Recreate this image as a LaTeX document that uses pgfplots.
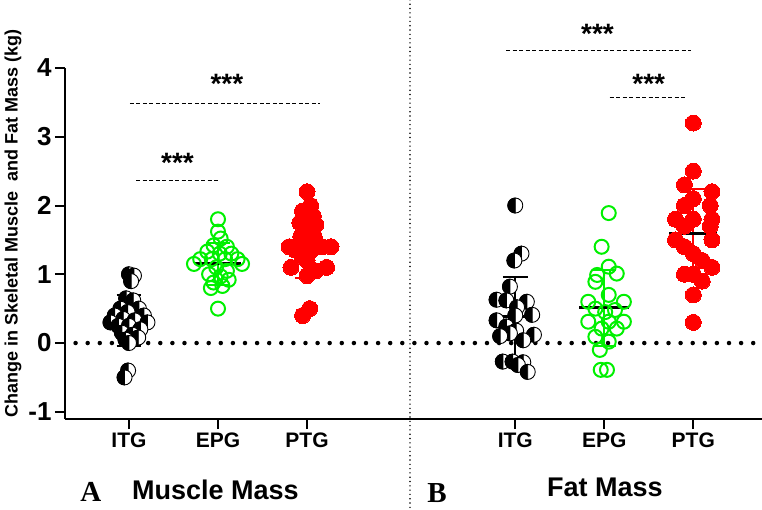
\documentclass[border=0pt]{standalone}
\usepackage{fontspec}
\setmainfont{Liberation Sans}
\newfontfamily\tnr{Liberation Serif}
\usepackage{pgfplots}
\usepackage{pgfplotstable}
\pgfplotsset{compat=1.18}
\definecolor{grn}{RGB}{0,240,0}
\definecolor{rd}{RGB}{255,0,0}

\pgfdeclareplotmark{halfc}{%
  \pgfpathcircle{\pgfpointorigin}{\pgfplotmarksize}%
  \pgfsetfillcolor{white}%
  \pgfusepathqfillstroke
  \pgfpathmoveto{\pgfqpoint{0pt}{\pgfplotmarksize}}%
  \pgfpatharc{90}{270}{\pgfplotmarksize}%
  \pgfpathclose
  \pgfsetfillcolor{black}%
  \pgfusepathqfillstroke
}

% Muscle mass (panel A)
\pgfplotstableread{
x y
1.00 1.00
1.056 0.98
1.024 0.90
0.968 0.65
1.048 0.62
0.904 0.50
1.112 0.50
0.984 0.45
0.84 0.40
1.168 0.40
0.936 0.35
1.064 0.33
0.792 0.30
1.208 0.30
0.88 0.25
1.00 0.25
1.128 0.20
0.92 0.15
1.04 0.12
0.96 0.05
1.104 0.08
1.00 0.00
0.99 -0.40
0.95 -0.50
}\itgA
\pgfplotstableread{
x y
2.00 1.80
2.00 1.62
2.03 1.52
1.95 1.42
2.10 1.40
1.88 1.33
2.02 1.30
2.15 1.30
1.80 1.22
1.93 1.22
2.08 1.22
2.22 1.22
1.73 1.15
2.27 1.15
1.98 1.10
2.10 1.05
1.90 1.00
2.03 0.97
2.12 0.92
1.95 0.88
2.05 0.83
1.92 0.80
2.00 0.50
}\epgA
\pgfplotstableread{
x y
3.00 2.20
3.04 2.00
2.95 1.92
3.07 1.85
2.92 1.75
3.10 1.72
3.00 1.65
2.93 1.55
3.08 1.55
2.98 1.45
2.80 1.40
3.17 1.40
2.87 1.35
3.27 1.40
3.05 1.35
2.95 1.25
3.00 1.20
2.82 1.10
3.22 1.10
3.10 1.05
3.00 0.98
3.03 0.50
2.95 0.40
}\ptgA
% Fat mass (panel B)
\pgfplotstableread{
x y
5.34 2.00
5.41 1.30
5.33 1.20
5.28 0.82
5.13 0.63
5.24 0.62
5.47 0.60
5.36 0.52
5.53 0.41
5.34 0.40
5.13 0.33
5.24 0.24
5.35 0.18
5.55 0.12
5.28 0.14
5.17 0.10
5.43 0.04
5.20 -0.27
5.31 -0.27
5.43 -0.28
5.37 -0.32
5.48 -0.42
}\itgB
\pgfplotstableread{
x y
6.39 1.89
6.31 1.40
6.39 1.11
6.48 1.01
6.26 0.99
6.24 0.89
6.39 0.70
6.16 0.60
6.56 0.60
6.24 0.50
6.46 0.48
6.35 0.45
6.16 0.31
6.56 0.31
6.39 0.31
6.31 0.21
6.48 0.21
6.24 0.09
6.39 0.02
6.29 -0.10
6.30 -0.39
6.37 -0.39
}\epgB
\pgfplotstableread{
x y
7.34 3.20
7.34 2.50
7.24 2.30
7.55 2.20
7.34 2.10
7.24 2.00
7.53 2.00
7.14 1.80
7.34 1.80
7.55 1.80
7.24 1.70
7.53 1.70
7.14 1.50
7.55 1.50
7.24 1.40
7.34 1.30
7.44 1.20
7.55 1.10
7.24 1.00
7.34 1.00
7.44 0.90
7.34 0.70
7.34 0.30
}\ptgB

\begin{document}
\begin{tikzpicture}
\path[use as bounding box] (-65pt,-90pt) rectangle (697pt,419pt);
\begin{axis}[
  scale only axis, width=697pt, height=351pt,
  xmin=0.281, xmax=8.112, ymin=-1.105, ymax=4,
  axis x line=bottom, axis y line=left,
  axis line style={-, line width=2.4pt},
  xtick={1,2,3,5.34,6.34,7.34},
  xticklabels={ITG,EPG,PTG,ITG,EPG,PTG},
  ytick={-1,0,1,2,3,4},
  yticklabels={-1,0,1,2,3,4},
  tick align=outside, major tick length=10pt,
  tick style={line width=2pt, black},
  xticklabel style={font=\bfseries\fontsize{21}{21}\selectfont},
  yticklabel style={font=\bfseries\fontsize{26}{26}\selectfont},
  ylabel={Change in Skeletal Muscle\ \ and Fat Mass (kg)},
  ylabel style={font=\bfseries\fontsize{18}{18}\selectfont, at={(axis description cs:-0.0746,0.558)}, anchor=center},
  clip=false,
]
% reference lines
\addplot[black, line width=4.5pt, line cap=round, dash pattern=on 0pt off 12.1pt] coordinates {(0.40,0) (8.112,0)};
\addplot[black, line width=1.6pt, line cap=round, dash pattern=on 0pt off 4.3pt] coordinates {(4.157,4.99) (4.157,-2.41)};

% points
\addplot[only marks, mark=halfc, mark size=7.5pt, mark options={draw=black, line width=0.9pt}] table[x=x,y=y] {\itgA};
\addplot[only marks, mark=o, mark size=7pt, mark options={draw=grn, line width=2pt}] table[x=x,y=y] {\epgA};
\addplot[only marks, mark=*, mark size=8pt, mark options={draw=rd, fill=rd, line width=0pt}] table[x=x,y=y] {\ptgA};
\addplot[only marks, mark=halfc, mark size=7.5pt, mark options={draw=black, line width=0.9pt}] table[x=x,y=y] {\itgB};
\addplot[only marks, mark=o, mark size=7pt, mark options={draw=grn, line width=2pt}] table[x=x,y=y] {\epgB};
\addplot[only marks, mark=*, mark size=8pt, mark options={draw=rd, fill=rd, line width=0pt}] table[x=x,y=y] {\ptgB};

% SD bars
\addplot[black, line width=2pt] coordinates {(1,-0.04) (1,0.70)};
\addplot[black, line width=2pt] coordinates {(0.86,0.70) (1.14,0.70)};
\addplot[black, line width=2pt] coordinates {(0.86,-0.04) (1.14,-0.04)};
\addplot[grn, line width=2pt] coordinates {(2,0.85) (2,1.45)};
\addplot[grn, line width=2pt] coordinates {(1.87,1.45) (2.13,1.45)};
\addplot[grn, line width=2pt] coordinates {(1.87,0.85) (2.13,0.85)};
\addplot[rd, line width=2pt] coordinates {(3,0.95) (3,1.79)};
\addplot[rd, line width=2pt] coordinates {(2.87,1.79) (3.13,1.79)};
\addplot[rd, line width=2pt] coordinates {(2.87,0.95) (3.13,0.95)};
\addplot[black, line width=2pt] coordinates {(5.34,-0.20) (5.34,0.96)};
\addplot[black, line width=2pt] coordinates {(5.20,0.96) (5.48,0.96)};
\addplot[black, line width=2pt] coordinates {(5.20,-0.20) (5.48,-0.20)};
\addplot[grn, line width=2pt] coordinates {(6.34,-0.04) (6.34,1.06)};
\addplot[grn, line width=2pt] coordinates {(6.21,1.06) (6.47,1.06)};
\addplot[grn, line width=2pt] coordinates {(6.21,-0.04) (6.47,-0.04)};
\addplot[rd, line width=2pt] coordinates {(7.34,0.96) (7.34,2.24)};
\addplot[rd, line width=2pt] coordinates {(7.21,2.24) (7.47,2.24)};
\addplot[rd, line width=2pt] coordinates {(7.21,0.96) (7.47,0.96)};
% means
\addplot[black, line width=3pt] coordinates {(0.72,0.33) (1.28,0.33)};
\addplot[black, line width=3pt] coordinates {(1.74,1.15) (2.26,1.15)};
\addplot[black, line width=3pt] coordinates {(2.73,1.37) (3.27,1.37)};
\addplot[black, line width=3pt] coordinates {(5.06,0.38) (5.62,0.38)};
\addplot[black, line width=3pt] coordinates {(6.06,0.51) (6.62,0.51)};
\addplot[black, line width=3pt] coordinates {(7.07,1.60) (7.61,1.60)};

% significance
\addplot[black, line width=1.1pt, dash pattern=on 4pt off 2.5pt] coordinates {(1.08,2.36) (2.01,2.36)};
\addplot[black, line width=1.1pt, dash pattern=on 4pt off 2.5pt] coordinates {(1.01,3.48) (3.15,3.48)};
\addplot[black, line width=1.1pt, dash pattern=on 4pt off 2.5pt] coordinates {(5.236,4.25) (7.31,4.25)};
\addplot[black, line width=1.1pt, dash pattern=on 4pt off 2.5pt] coordinates {(6.40,3.57) (7.26,3.57)};
\node[font=\bfseries\fontsize{28}{28}\selectfont, inner sep=0pt] at (axis cs:1.545,2.62) {***};
\node[font=\bfseries\fontsize{28}{28}\selectfont, inner sep=0pt] at (axis cs:2.10,3.77) {***};
\node[font=\bfseries\fontsize{28}{28}\selectfont, inner sep=0pt] at (axis cs:6.264,4.49) {***};
\node[font=\bfseries\fontsize{28}{28}\selectfont, inner sep=0pt] at (axis cs:6.84,3.77) {***};

% panel titles
\node[font=\tnr\bfseries\fontsize{29}{29}\selectfont, anchor=base, inner sep=0pt] at (axis cs:0.57,-2.31) {A};
\node[font=\bfseries\fontsize{27}{27}\selectfont, anchor=base, inner sep=0pt] at (axis cs:1.97,-2.28) {Muscle Mass};
\node[font=\tnr\bfseries\fontsize{29}{29}\selectfont, anchor=base, inner sep=0pt] at (axis cs:4.462,-2.32) {B};
\node[font=\bfseries\fontsize{27}{27}\selectfont, anchor=base, inner sep=0pt] at (axis cs:6.348,-2.23) {Fat Mass};
\end{axis}
\end{tikzpicture}
\end{document}
